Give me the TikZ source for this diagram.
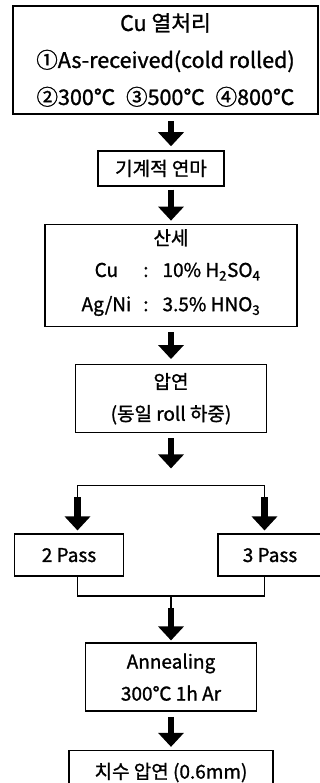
\documentclass[tikz,border=0pt]{standalone}
\usepackage{fontspec}
\setmainfont{Noto Sans CJK KR}[FakeBold=1.2]
\usetikzlibrary{positioning,arrows.meta}

\begin{document}
\begin{tikzpicture}[x=1pt, y=1pt,
    box/.style={rectangle, draw, line width=1.4pt, inner sep=0pt, align=center, font=\fontsize{19}{32}\selectfont},
    bigarrow/.style={line width=6.5pt, -{Triangle[width=25pt,length=14pt]}},
    wire/.style={line width=1.4pt}
]
\useasboundingbox (0,0) rectangle (320,-783);
\coordinate (col) at (171,0);

% Main column
\node[box, line width=2.5pt, minimum width=305pt, minimum height=108pt, font=\fontsize{21.5}{37}\selectfont] (heat) at (165.5,-60) {Cu 열처리\\①As-received(cold rolled)\\②300℃\enspace③500℃\enspace④800℃};
\node[box, minimum width=126pt, minimum height=35pt, below=35pt of heat, xshift=-4.5pt] (polish) {기계적 연마};
\node[box, minimum width=252pt, minimum height=102pt, below=37pt of polish, xshift=10pt] (pickle) {산세\\\renewcommand{\arraystretch}{1.07}\begin{tabular}[t]{@{}c@{\hspace{12pt}}c@{\hspace{14pt}}l@{}}Cu & : & 10\% H\textsubscript{2}SO\textsubscript{4}\\Ag/Ni & : & 3.5\% HNO\textsubscript{3}\end{tabular}};
\node[box, minimum width=191pt, minimum height=68pt, below=37pt of pickle] (roll) {압연\\(동일 roll 하중)};

% Two passes
\node[box, minimum width=109pt, minimum height=42pt, below=100pt of roll, xshift=-102pt] (pass2) {2 Pass};
\node[box, minimum width=104pt, minimum height=42pt, below=100pt of roll, xshift=99pt] (pass3) {3 Pass};
\node[box, minimum width=171pt, minimum height=68pt, below=209pt of roll] (anneal) {Annealing\\300℃ 1h Ar};
\node[box, minimum width=204pt, minimum height=44pt, below=38pt of anneal] (final) {치수 압연 (0.6mm)};

% Branch points
\coordinate[below=52pt of roll, xshift=-93.5pt] (splitL);
\coordinate[below=52pt of roll, xshift=93.5pt] (splitR);
\coordinate (split) at (splitL -| col);
\coordinate (joinL) at ([yshift=-19pt]pass2.south -| splitL);
\coordinate (joinR) at (joinL -| splitR);
\coordinate (join) at (joinL -| col);

% Arrows
\draw[bigarrow, shorten <=6pt, shorten >=4pt] (heat.south -| col) -- (polish.north -| col);
\draw[bigarrow, shorten <=3pt, shorten >=3pt] (polish.south -| col) -- (pickle.north -| col);
\draw[bigarrow, shorten <=5pt, shorten >=5pt] (pickle.south -| col) -- (roll.north -| col);
\draw[bigarrow, shorten <=5pt, shorten >=17pt] (roll.south -| col) -- (split);
\draw[wire] (splitL) -- (splitR);
\draw[wire, shorten >=6pt] (splitL) -- (splitL |- pass2.north);
\draw[bigarrow, shorten <=12pt, shorten >=3pt] (splitL) -- (splitL |- pass2.north);
\draw[wire, shorten >=6pt] (splitR) -- (splitR |- pass3.north);
\draw[bigarrow, shorten <=12pt, shorten >=3pt] (splitR) -- (splitR |- pass3.north);
\draw[wire] (pass2.south -| splitL) -- (joinL) -- (joinR) -- (pass3.south -| splitR);
\draw[wire, shorten >=6pt] (join) -- (anneal.north -| col);
\draw[bigarrow, shorten <=12pt, shorten >=2pt] (join) -- (anneal.north -| col);
\draw[bigarrow, shorten <=5pt, shorten >=3pt] (anneal.south -| col) -- (final.north -| col);

\end{tikzpicture}
\end{document}
